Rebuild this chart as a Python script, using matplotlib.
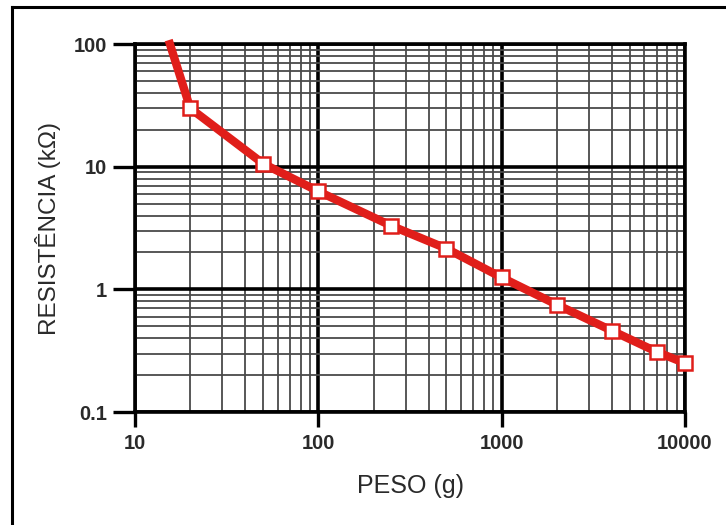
import matplotlib
matplotlib.use("Agg")
import matplotlib.pyplot as plt
from matplotlib.lines import Line2D
import numpy as np

# dados (peso em g, resistencia em kOhm)
peso = [15.5, 20, 50, 100, 250, 500, 1000, 2000, 4000, 7000, 10000]
resistencia = [100, 30, 10.6, 6.3, 3.3, 2.15, 1.25, 0.75, 0.46, 0.31, 0.25]
x_ticks = [10, 100, 1000, 10000]
x_labels = ["10", "100", "1000", "10000"]
y_ticks = [0.1, 1, 10, 100]
y_labels = ["0.1", "1", "10", "100"]

plt.rcParams['font.family'] = ['Liberation Sans', 'DejaVu Sans']

fig = plt.figure(figsize=(7.26, 5.25), dpi=100)
ax = fig.add_axes([0.186, 0.2152, 0.7575, 0.7008])
ax.set_xscale('log')
ax.set_yscale('log')
ax.set_xlim(10, 10000)
ax.set_ylim(0.1, 100)

# grade menor e maior
ax.grid(True, which='minor', color='#4a4a4a', linewidth=1.3)
ax.grid(True, which='major', color='black', linewidth=2.6)
ax.set_axisbelow(True)

ax.plot(peso, resistencia, color='#e01e1a', linewidth=6,
        marker='s', markersize=10, markerfacecolor='white',
        markeredgecolor='#e01e1a', markeredgewidth=1.8,
        markevery=list(range(1, len(peso))), clip_on=False, zorder=3)

ax.set_xticks(x_ticks)
ax.set_xticklabels(x_labels, fontsize=14.5, fontweight='bold', color='#2a2a2a')
ax.set_yticks(y_ticks)
ax.set_yticklabels(y_labels, fontsize=14.5, fontweight='bold', color='#2a2a2a')
ax.tick_params(axis='both', which='minor', length=0)
ax.tick_params(axis='y', which='major', length=16, width=2.4, pad=4, color='black')
ax.tick_params(axis='x', which='major', length=11, width=2.4, pad=5, color='black')

for sp in ax.spines.values():
    sp.set_linewidth(2.6)
    sp.set_color('black')

ax.set_xlabel("PESO (g)", fontsize=18, color='#2a2a2a', labelpad=15)
ax.set_ylabel("RESISTÊNCIA (kΩ)", fontsize=17.5, color='#2a2a2a', labelpad=9)

# moldura da figura
fig.add_artist(Line2D([12 / 726, 12 / 726], [0, 1 - 7 / 525], color='black', linewidth=2.2))
fig.add_artist(Line2D([12 / 726, 1], [1 - 7 / 525, 1 - 7 / 525], color='black', linewidth=2.2))

fig.savefig("out.png", dpi=100)
